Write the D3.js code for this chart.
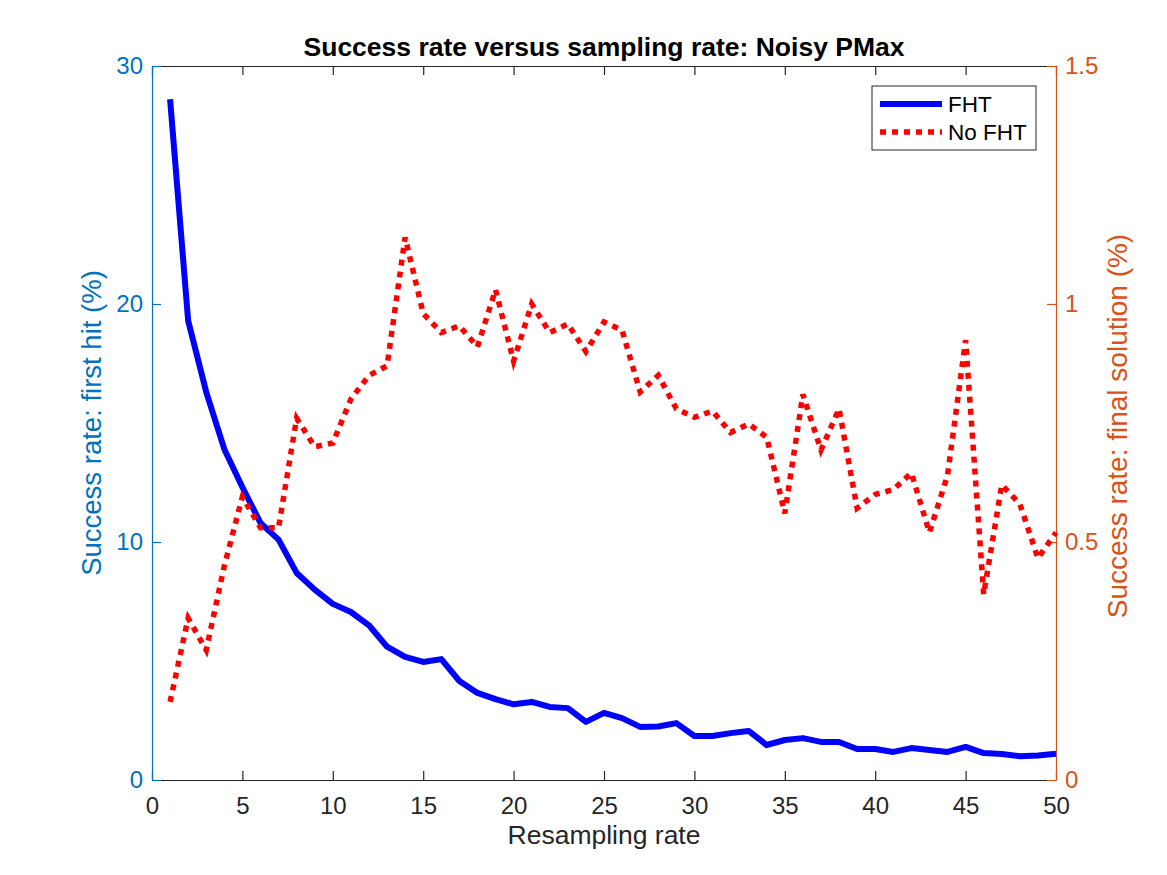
<!DOCTYPE html>
<html>
<head>
<meta charset="utf-8">
<script src="https://cdn.jsdelivr.net/npm/d3@7"></script>
<style>
  body { margin: 0; background: #fff; }
  svg text { font-family: "Liberation Sans", Arial, Helvetica, sans-serif; }
</style>
</head>
<body>
<div class="chart"></div>
<script>
// resampling rate 1..50
const rates = d3.range(1, 51)

// success rate: first hit (%) - left axis
const fht = [28.6, 19.3, 16.3, 13.9, 12.3, 10.8, 10.1, 8.7, 8.0, 7.4,
  7.06, 6.5, 5.6, 5.17, 4.96, 5.08, 4.16, 3.66, 3.4, 3.18,
  3.28, 3.07, 3.02, 2.44, 2.82, 2.6, 2.23, 2.25, 2.39, 1.85,
  1.85, 1.97, 2.06, 1.47, 1.68, 1.76, 1.6, 1.6, 1.3, 1.3,
  1.18, 1.34, 1.26, 1.18, 1.39, 1.13, 1.09, 1.0, 1.03, 1.1]

// success rate: final solution (%) - right axis
const noFht = [0.164, 0.34, 0.273, 0.45, 0.595, 0.53, 0.53, 0.76, 0.70, 0.708,
  0.80, 0.85, 0.87, 1.14, 0.98, 0.94, 0.954, 0.91, 1.03, 0.88,
  1.0, 0.94, 0.958, 0.90, 0.962, 0.945, 0.815, 0.85, 0.78, 0.762,
  0.775, 0.73, 0.748, 0.72, 0.56, 0.81, 0.693, 0.78, 0.571, 0.60,
  0.61, 0.645, 0.52, 0.64, 0.924, 0.39, 0.62, 0.58, 0.466, 0.52]

const xTicks = d3.range(0, 51, 5)
const leftTicks = [0, 10, 20, 30]
const rightTicks = [0, 0.5, 1, 1.5]

const width = 1167
const height = 875
const margin = { top: 66, right: 111, bottom: 95, left: 152 }
const innerWidth = width - margin.left - margin.right
const innerHeight = height - margin.top - margin.bottom

const blueAxis = '#0072BD'
const orangeAxis = '#D95319'
const dark = '#262626'

const svg = d3.select('.chart')
  .append('svg')
  .attr('width', width)
  .attr('height', height)
  .append('g')
  .attr('transform', `translate(${margin.left},${margin.top})`)

const x = d3.scaleLinear().domain([0, 50]).range([0, innerWidth])
const yLeft = d3.scaleLinear().domain([0, 30]).range([innerHeight, 0])
const yRight = d3.scaleLinear().domain([0, 1.5]).range([innerHeight, 0])

// axes with inward ticks like matlab
const styleAxis = function(g, color) {
  g.select('.domain').attr('stroke', color).attr('stroke-width', 1.2)
  g.selectAll('.tick line').attr('stroke', color).attr('stroke-width', 1.2)
  g.selectAll('.tick text').attr('fill', color).style('font-size', '24px')
}

svg.append('g')
  .attr('transform', `translate(0,${innerHeight})`)
  .call(d3.axisBottom(x).tickValues(xTicks).tickSizeInner(-9).tickSizeOuter(0).tickPadding(17))
  .call(g => styleAxis(g, dark))

// top box edge, ticks only
svg.append('g')
  .call(d3.axisTop(x).tickValues(xTicks).tickSizeInner(-9).tickSizeOuter(0))
  .call(g => styleAxis(g, dark))
  .call(g => g.selectAll('.tick text').remove())

svg.append('g')
  .call(d3.axisLeft(yLeft).tickValues(leftTicks).tickSizeInner(-9).tickSizeOuter(0).tickPadding(9))
  .call(g => styleAxis(g, blueAxis))

svg.append('g')
  .attr('transform', `translate(${innerWidth},0)`)
  .call(d3.axisRight(yRight).tickValues(rightTicks).tickSizeInner(-9).tickSizeOuter(0).tickPadding(9)
    .tickFormat(d => String(d)))
  .call(g => styleAxis(g, orangeAxis))

// lines
svg.append('path')
  .datum(fht)
  .attr('fill', 'none')
  .attr('stroke', '#0000FF')
  .attr('stroke-width', 6)
  .attr('stroke-linejoin', 'round')
  .attr('d', d3.line().x((d, i) => x(rates[i])).y(d => yLeft(d)))

svg.append('path')
  .datum(noFht)
  .attr('fill', 'none')
  .attr('stroke', '#FF0000')
  .attr('stroke-width', 5.5)
  .attr('stroke-dasharray', '6,6')
  .attr('d', d3.line().x((d, i) => x(rates[i])).y(d => yRight(d)))

// labels
svg.append('text')
  .attr('x', innerWidth / 2)
  .attr('y', -10)
  .attr('text-anchor', 'middle')
  .style('font-size', '26.5px')
  .style('font-weight', 'bold')
  .attr('fill', '#000')
  .text('Success rate versus sampling rate: Noisy PMax')

svg.append('text')
  .attr('x', innerWidth / 2)
  .attr('y', innerHeight + 64)
  .attr('text-anchor', 'middle')
  .style('font-size', '26.5px')
  .attr('fill', dark)
  .text('Resampling rate')

svg.append('text')
  .attr('transform', `translate(${-51},${innerHeight / 2}) rotate(-90)`)
  .attr('text-anchor', 'middle')
  .style('font-size', '27.5px')
  .attr('fill', blueAxis)
  .text('Success rate: first hit (%)')

svg.append('text')
  .attr('transform', `translate(${innerWidth + 71},${innerHeight / 2 + 3}) rotate(-90)`)
  .attr('text-anchor', 'middle')
  .style('font-size', '28px')
  .attr('fill', orangeAxis)
  .text('Success rate: final solution (%)')

// legend
const legend = svg.append('g')
  .attr('transform', `translate(${innerWidth - 184},20)`)

legend.append('rect')
  .attr('width', 164)
  .attr('height', 64)
  .attr('fill', '#fff')
  .attr('stroke', dark)
  .attr('stroke-width', 1)

const legendItems = [
  { label: 'FHT', color: '#0000FF', dash: null, w: 6 },
  { label: 'No FHT', color: '#FF0000', dash: '6,6', w: 5.5 }
]

legendItems.forEach((d, i) => {
  const yy = 18 + i * 28
  legend.append('line')
    .attr('x1', 8).attr('x2', 70)
    .attr('y1', yy).attr('y2', yy)
    .attr('stroke', d.color)
    .attr('stroke-width', d.w)
    .attr('stroke-dasharray', d.dash)
  legend.append('text')
    .attr('x', 76)
    .attr('y', yy + 8)
    .style('font-size', '22.5px')
    .attr('fill', '#000')
    .text(d.label)
})
</script>
</body>
</html>
